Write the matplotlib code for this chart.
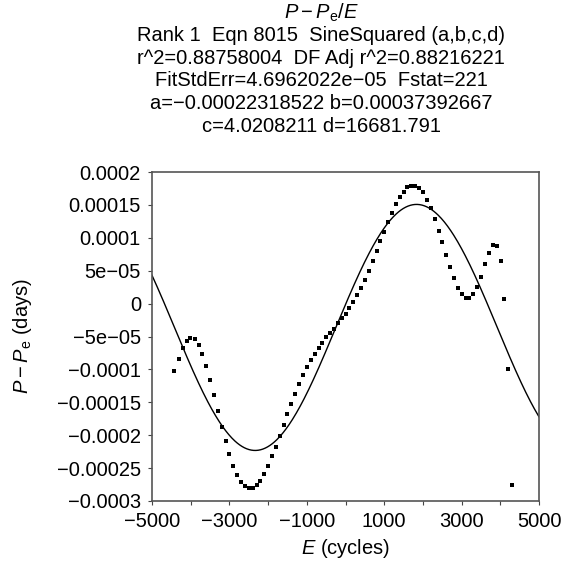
import numpy as np
import matplotlib
matplotlib.use("Agg")
import matplotlib.pyplot as plt

plt.rcParams['font.family'] = ['Liberation Sans', 'DejaVu Sans']
plt.rcParams['mathtext.fontset'] = 'custom'
plt.rcParams['mathtext.rm'] = 'Liberation Sans'
plt.rcParams['mathtext.it'] = 'Liberation Sans:italic'

# observed P - Pe values (days) against cycle number E
cycles = [-4424, -4294, -4207, -4104, -4018, -3889, -3793, -3700, -3597, -3502,
          -3398, -3295, -3199, -3096, -3003, -2899, -2803, -2700, -2597, -2494,
          -2398, -2295, -2202, -2098, -1995, -1899, -1804, -1693, -1597, -1504,
          -1400, -1305, -1202, -1098, -1003, -899, -796, -693, -600, -504,
          -400, -297, -194, -98, 5, 98, 202, 305, 408, 512,
          607, 703, 806, 899, 1003, 1098, 1202, 1305, 1408, 1512,
          1597, 1700, 1804, 1907, 2003, 2106, 2209, 2305, 2408, 2501,
          2605, 2708, 2811, 2907, 3010, 3106, 3199, 3302, 3406, 3509,
          3612, 3708, 3804, 3907, 4010, 4103, 4207, 4310]
dp = [-1.03e-4, -8.4e-5, -6.75e-5, -5.7e-5, -5.3e-5, -5.4e-5, -6.25e-5, -7.7e-5, -9.45e-5, -1.16e-4,
      -1.39e-4, -1.63e-4, -1.87e-4, -2.09e-4, -2.29e-4, -2.47e-4, -2.61e-4, -2.71e-4, -2.77e-4, -2.80e-4,
      -2.80e-4, -2.76e-4, -2.69e-4, -2.59e-4, -2.47e-4, -2.32e-4, -2.18e-4, -2.01e-4, -1.84e-4, -1.68e-4,
      -1.52e-4, -1.37e-4, -1.22e-4, -1.09e-4, -9.7e-5, -8.6e-5, -7.7e-5, -6.75e-5, -6.0e-5, -5.1e-5,
      -4.5e-5, -3.8e-5, -3.0e-5, -2.2e-5, -1.6e-5, -7e-6, 2.6e-6, 1.27e-5, 2.4e-5, 3.66e-5,
      5.0e-5, 6.55e-5, 7.97e-5, 9.45e-5, 1.09e-4, 1.24e-4, 1.38e-4, 1.51e-4, 1.62e-4, 1.70e-4,
      1.77e-4, 1.79e-4, 1.79e-4, 1.75e-4, 1.69e-4, 1.58e-4, 1.46e-4, 1.29e-4, 1.11e-4, 9.3e-5,
      7.4e-5, 5.6e-5, 3.9e-5, 2.4e-5, 1.42e-5, 8.7e-6, 8.7e-6, 1.48e-5, 2.5e-5, 4.1e-5,
      6.0e-5, 7.7e-5, 8.9e-5, 8.7e-5, 6.45e-5, 7.6e-6, -1.0e-4, -2.75e-4]

# SineSquared fit parameters from the header
a = -0.00022318522
b = 0.00037392667
c = 4.0208211
d = 16681.791

yticks = [0.0002, 0.00015, 0.0001, 5e-05, 0, -5e-05, -0.0001, -0.00015, -0.0002, -0.00025, -0.0003]
ytick_labels = ['0.0002', '0.00015', '0.0001', '5e\u221205', '0', '\u22125e\u221205', '\u22120.0001',
                '\u22120.00015', '\u22120.0002', '\u22120.00025', '\u22120.0003']
xticks = [-5000, -4000, -3000, -2000, -1000, 0, 1000, 2000, 3000, 4000, 5000]
xtick_labels = ['\u22125000', '', '\u22123000', '', '\u22121000', '', '1000', '', '3000', '', '5000']

header = ['$P - P_\\mathrm{e}/E$',
          'Rank 1  Eqn 8015  SineSquared (a,b,c,d)',
          'r^2=0.88758004  DF Adj r^2=0.88216221',
          'FitStdErr=4.6962022e\u221205  Fstat=221',
          'a=\u22120.00022318522 b=0.00037392667',
          'c=4.0208211 d=16681.791']

fs = 14.5

fig = plt.figure(figsize=(5.7, 5.68), dpi=100)
ax = fig.add_axes([152 / 570, 1 - 501 / 568, 387 / 570, 329 / 568])

xs = np.linspace(-5000, 5000, 500)
ax.plot(xs, a + b * np.sin(2 * np.pi * xs / d + c) ** 2, color='black', lw=1.0)
ax.plot(cycles, dp, 's', color='black', markersize=2.6, markeredgewidth=0)

ax.set_xlim(-5000, 5000)
ax.set_ylim(-0.0003, 0.0002)
ax.set_xticks(xticks)
ax.set_xticklabels(xtick_labels)
ax.set_yticks(yticks)
ax.set_yticklabels(ytick_labels)
ax.tick_params(direction='out', length=3, width=0.8, labelsize=fs, color='#444444')
ax.tick_params(axis='x', pad=5)
ax.tick_params(axis='y', pad=5)
for s in ax.spines.values():
    s.set_color('#555555')
    s.set_linewidth(1.2)

ax.set_xlabel('$E$ (cycles)', fontsize=fs, labelpad=4)
ax.set_ylabel('$P - P_\\mathrm{e}$ (days)', fontsize=fs)
ax.yaxis.set_label_coords(-0.305, 0.5)

for i, line in enumerate(header):
    fig.text(321 / 570, 1 - (13 + i * 22.6) / 568, line, ha='center', va='center', fontsize=fs)

fig.savefig('out.png', dpi=100)
